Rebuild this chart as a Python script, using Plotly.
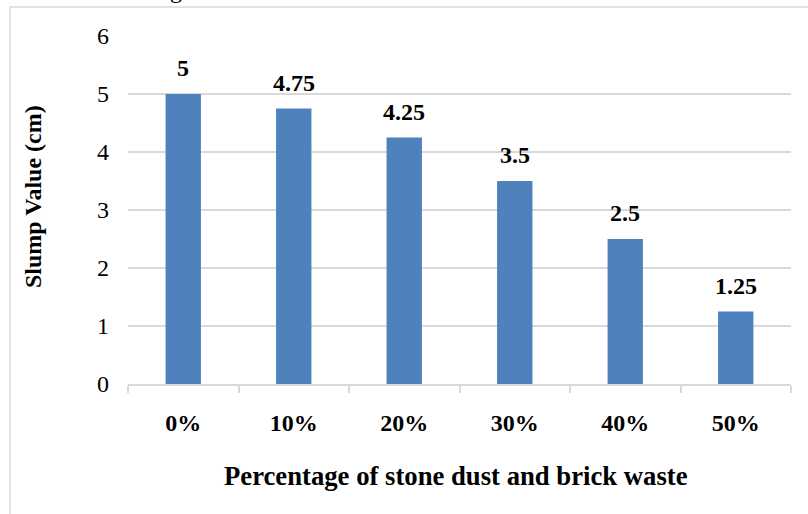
import plotly.graph_objects as go

# Slump test results for mixes with stone dust and brick waste
categories = ["0%", "10%", "20%", "30%", "40%", "50%"]
slump_cm = [5, 4.75, 4.25, 3.5, 2.5, 1.25]
y_ticks = [0, 1, 2, 3, 4, 5, 6]

FONT = "Liberation Serif, Times New Roman, serif"
BAR_COLOR = "#4f81bd"
GRID_COLOR = "#d9d9d9"

# plot area in pixels: left 128, right 791, top 36, bottom 384
W, H = 808, 514
L, R, T, B = 128, 17, 36, 130
PW, PH = W - L - R, H - T - B


def px_x(p):
    return (p - L) / PW


def px_y(p):
    return (H - B - p) / PH


fig = go.Figure()
fig.add_trace(go.Bar(
    x=categories,
    y=slump_cm,
    marker=dict(color=BAR_COLOR, line=dict(width=0)),
    hoverinfo="x+y",
))

# value labels above each bar
for cat, val in zip(categories, slump_cm):
    fig.add_annotation(
        x=cat, y=val, xref="x", yref="y",
        text=f"<b>{val:g}</b>",
        showarrow=False, yanchor="bottom", yshift=11,
        font=dict(family=FONT, size=24, color="#000000"),
    )

# axis titles
fig.add_annotation(
    x=px_x(456), y=px_y(476), xref="paper", yref="paper",
    text="<b>Percentage of stone dust and brick waste</b>",
    showarrow=False, xanchor="center", yanchor="middle",
    font=dict(family=FONT, size=26.7, color="#000000"),
)
fig.add_annotation(
    x=px_x(33), y=px_y(197), xref="paper", yref="paper",
    text="<b>Slump Value (cm)</b>", textangle=-90,
    showarrow=False, xanchor="center", yanchor="middle",
    font=dict(family=FONT, size=24, color="#000000"),
)

# descender of the caption line above the chart frame
fig.add_annotation(
    x=px_x(175.5), y=px_y(5), xref="paper", yref="paper",
    text="g", showarrow=False, xanchor="center", yanchor="bottom",
    font=dict(family=FONT, size=24, color="#000000"),
)

fig.update_layout(
    width=W,
    height=H,
    margin=dict(l=L, r=R, t=T, b=B),
    paper_bgcolor="#ffffff",
    plot_bgcolor="#ffffff",
    bargap=0.68,
    showlegend=False,
    font=dict(family=FONT, size=24, color="#000000"),
    xaxis=dict(
        type="category",
        showgrid=False,
        showline=True,
        linecolor=GRID_COLOR,
        linewidth=1.5,
        ticks="outside",
        tickson="boundaries",
        ticklen=7,
        tickwidth=1.5,
        tickcolor=GRID_COLOR,
        tickfont=dict(family=FONT, size=24, color="#000000", weight="bold"),
        ticklabelstandoff=16,
    ),
    yaxis=dict(
        range=[0, 6],
        tickvals=y_ticks,
        showgrid=True,
        gridcolor=GRID_COLOR,
        gridwidth=1.5,
        zeroline=False,
        showline=False,
        ticks="",
        ticklabelstandoff=18,
        tickfont=dict(family=FONT, size=24, color="#000000"),
    ),
)

# light frame around the chart area
fig.add_shape(
    type="rect", xref="paper", yref="paper",
    x0=px_x(10), x1=px_x(W + 20), y0=px_y(H + 20), y1=px_y(7),
    line=dict(color=GRID_COLOR, width=1.5),
    fillcolor="rgba(0,0,0,0)", layer="below",
)

fig.write_html("out.html")
